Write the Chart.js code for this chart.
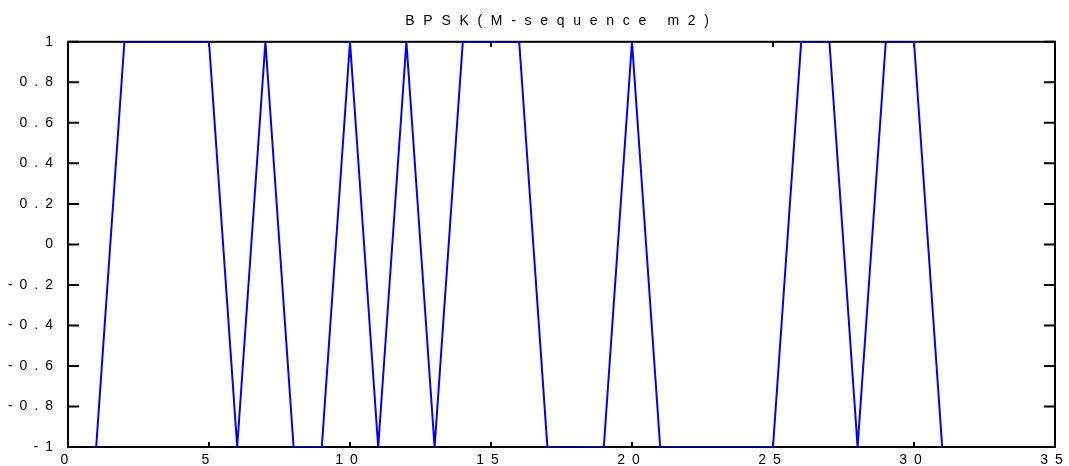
<!DOCTYPE html>
<html>
<head>
<meta charset="utf-8">
<script src="https://cdn.jsdelivr.net/npm/chart.js@4/dist/chart.umd.min.js"></script>
<style>
  body { margin: 0; background: #fff; }
  #wrap { width: 1069px; height: 466px; }
</style>
</head>
<body>
<div id="wrap"><canvas id="c"></canvas></div>
<script>
// M-sequence samples, one per chip
var chipIndex = [1, 2, 3, 4, 5, 6, 7, 8, 9, 10, 11, 12, 13, 14, 15, 16,
                 17, 18, 19, 20, 21, 22, 23, 24, 25, 26, 27, 28, 29, 30, 31];
var bpskValues = [-1, 1, 1, 1, 1, -1, 1, -1, -1, 1, -1, 1, -1, 1, 1, 1,
                  -1, -1, -1, 1, -1, -1, -1, -1, -1, 1, 1, -1, 1, 1, -1];
var xTicks = [0, 5, 10, 15, 20, 25, 30, 35];
var yTicks = [-1, -0.8, -0.6, -0.4, -0.2, 0, 0.2, 0.4, 0.6, 0.8, 1];
var titleText = 'BPSK(M-sequence m2)';

var points = chipIndex.map(function (x, i) { return { x: x, y: bpskValues[i] }; });

// box + inward ticks, matlab style
var frame = {
  id: 'frame',
  beforeDraw: function (chart) {
    chart.ctx.letterSpacing = '7px';
  },
  beforeDatasetsDraw: function (chart) {
    var ctx = chart.ctx, a = chart.chartArea;
    var sx = chart.scales.x, sy = chart.scales.y;
    ctx.save();
    ctx.strokeStyle = '#000';
    ctx.lineWidth = 2;
    ctx.strokeRect(a.left, a.top, a.right - a.left, a.bottom - a.top);
    ctx.beginPath();
    yTicks.forEach(function (v) {
      var py = sy.getPixelForValue(v);
      ctx.moveTo(a.left, py); ctx.lineTo(a.left + 11, py);
      ctx.moveTo(a.right, py); ctx.lineTo(a.right - 11, py);
    });
    xTicks.forEach(function (v) {
      var px = sx.getPixelForValue(v);
      ctx.moveTo(px, a.bottom); ctx.lineTo(px, a.bottom - 5);
      ctx.moveTo(px, a.top); ctx.lineTo(px, a.top + 5);
    });
    ctx.stroke();
    ctx.restore();
  }
};

var chart = new Chart(document.getElementById('c'), {
  type: 'line',
  data: {
    datasets: [{
      data: points,
      borderColor: '#0000ff',
      borderWidth: 2,
      pointRadius: 0,
      tension: 0,
      fill: false
    }]
  },
  options: {
    responsive: true,
    maintainAspectRatio: false,
    animation: false,
    layout: { padding: { left: 0, right: 14, top: 0, bottom: 0 } },
    plugins: {
      legend: { display: false },
      tooltip: { enabled: false },
      title: {
        display: true,
        fullSize: false,
        text: titleText,
        color: '#000',
        font: { family: 'Liberation Sans', size: 14, weight: 'normal' },
        padding: { top: 13, bottom: 12 }
      }
    },
    scales: {
      x: {
        type: 'linear',
        min: 0,
        max: 35,
        afterBuildTicks: function (s) { s.ticks = xTicks.map(function (v) { return { value: v }; }); },
        afterFit: function (s) { s.height = 19; },
        grid: { display: false, drawTicks: false },
        border: { display: false },
        ticks: {
          color: '#000',
          padding: 5,
          maxRotation: 0,
          font: { family: 'Liberation Sans', size: 14 },
          callback: function (v) { return String(v); }
        }
      },
      y: {
        min: -1,
        max: 1,
        afterBuildTicks: function (s) { s.ticks = yTicks.map(function (v) { return { value: v }; }); },
        afterFit: function (s) { s.width = 68; },
        grid: { display: false, drawTicks: false },
        border: { display: false },
        ticks: {
          color: '#000',
          padding: 8,
          font: { family: 'Liberation Sans', size: 14 },
          callback: function (v) { return String(Math.round(v * 10) / 10); }
        }
      }
    }
  },
  plugins: [frame]
});

// wider spacing for the title only
var drawTitle = chart.titleBlock.draw;
chart.titleBlock.draw = function () {
  chart.ctx.letterSpacing = '8.7px';
  drawTitle.apply(this, arguments);
  chart.ctx.letterSpacing = '7px';
};
chart.draw();
</script>
</body>
</html>
